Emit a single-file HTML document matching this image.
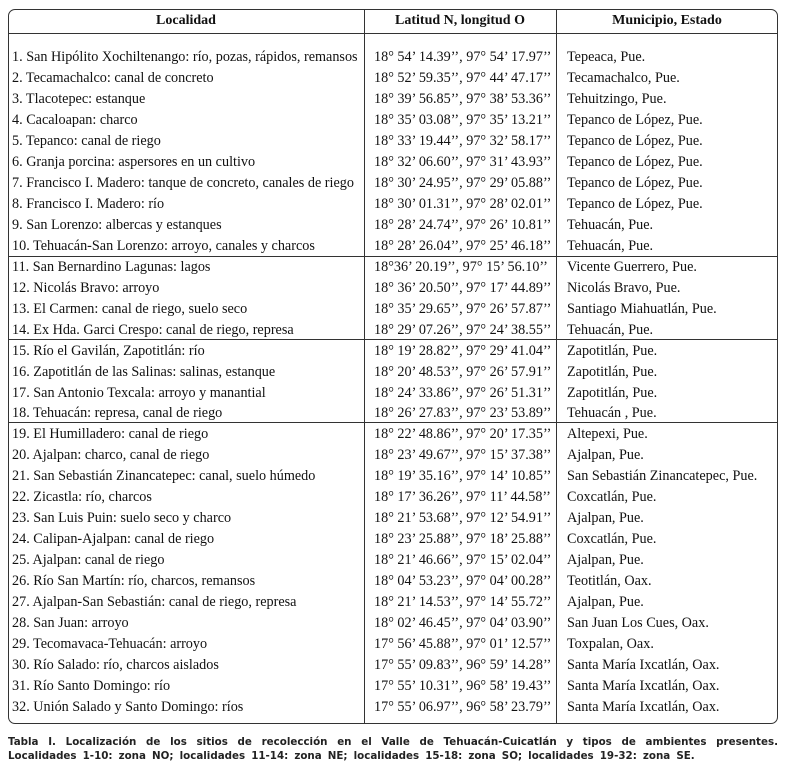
<!DOCTYPE html>
<html><head><meta charset="utf-8"><style>
body{margin:0;width:786px;height:768px;background:#fff;position:relative;font-family:"Liberation Serif",serif;color:#111;overflow:hidden}
.box{position:absolute;left:8px;top:9px;width:770px;height:715px;border:1.3px solid #333;border-radius:7px;box-sizing:border-box}
.v{position:absolute;width:1px;background:#333;top:9px;height:715px}
.h{position:absolute;height:1px;background:#333;left:8px;width:770px}
.hd{position:absolute;top:11px;font-weight:bold;font-size:14px;text-align:center;line-height:20px}
.rows{position:absolute;top:47px;left:0;width:786px}
.r{height:20.97px;line-height:20.97px;font-size:14.2px;position:relative;white-space:nowrap}
.r span{position:absolute}
.a{left:12px}.b{left:374px}.c{left:567px}
.cap{position:absolute;left:8px;width:770px;font-family:"DejaVu Sans","Liberation Sans",sans-serif;font-weight:bold;font-size:10.3px;line-height:14.5px;color:#222;white-space:nowrap}
.j{text-align:justify;text-align-last:justify;white-space:normal}
</style></head><body>
<div class="box"></div>
<div class="v" style="left:364px"></div>
<div class="v" style="left:556px"></div>
<div class="h" style="top:33px"></div>
<div class="h" style="top:256px"></div>
<div class="h" style="top:339px"></div>
<div class="h" style="top:422px"></div>
<div class="hd" style="left:8px;width:356px">Localidad</div>
<div class="hd" style="left:364px;width:192px">Latitud N, longitud O</div>
<div class="hd" style="left:556px;width:222px">Municipio, Estado</div>
<div class="rows">
<div class="r"><span class="a">1. San Hipólito Xochiltenango: río, pozas, rápidos, remansos</span><span class="b">18° 54’ 14.39’’, 97° 54’ 17.97’’</span><span class="c">Tepeaca, Pue.</span></div>
<div class="r"><span class="a">2. Tecamachalco: canal de concreto</span><span class="b">18° 52’ 59.35’’, 97° 44’ 47.17’’</span><span class="c">Tecamachalco, Pue.</span></div>
<div class="r"><span class="a">3. Tlacotepec: estanque</span><span class="b">18° 39’ 56.85’’, 97° 38’ 53.36’’</span><span class="c">Tehuitzingo, Pue.</span></div>
<div class="r"><span class="a">4. Cacaloapan: charco</span><span class="b">18° 35’ 03.08’’, 97° 35’ 13.21’’</span><span class="c">Tepanco de López, Pue.</span></div>
<div class="r"><span class="a">5. Tepanco: canal de riego</span><span class="b">18° 33’ 19.44’’, 97° 32’ 58.17’’</span><span class="c">Tepanco de López, Pue.</span></div>
<div class="r"><span class="a">6. Granja porcina: aspersores en un cultivo</span><span class="b">18° 32’ 06.60’’, 97° 31’ 43.93’’</span><span class="c">Tepanco de López, Pue.</span></div>
<div class="r"><span class="a">7. Francisco I. Madero: tanque de concreto, canales de riego</span><span class="b">18° 30’ 24.95’’, 97° 29’ 05.88’’</span><span class="c">Tepanco de López, Pue.</span></div>
<div class="r"><span class="a">8. Francisco I. Madero: río</span><span class="b">18° 30’ 01.31’’, 97° 28’ 02.01’’</span><span class="c">Tepanco de López, Pue.</span></div>
<div class="r"><span class="a">9. San Lorenzo: albercas y estanques</span><span class="b">18° 28’ 24.74’’, 97° 26’ 10.81’’</span><span class="c">Tehuacán, Pue.</span></div>
<div class="r"><span class="a">10. Tehuacán-San Lorenzo: arroyo, canales y charcos</span><span class="b">18° 28’ 26.04’’, 97° 25’ 46.18’’</span><span class="c">Tehuacán, Pue.</span></div>
<div class="r"><span class="a">11. San Bernardino Lagunas: lagos</span><span class="b">18°36’ 20.19’’, 97° 15’ 56.10’’</span><span class="c">Vicente Guerrero, Pue.</span></div>
<div class="r"><span class="a">12. Nicolás Bravo: arroyo</span><span class="b">18° 36’ 20.50’’, 97° 17’ 44.89’’</span><span class="c">Nicolás Bravo, Pue.</span></div>
<div class="r"><span class="a">13. El Carmen: canal de riego, suelo seco</span><span class="b">18° 35’ 29.65’’, 97° 26’ 57.87’’</span><span class="c">Santiago Miahuatlán, Pue.</span></div>
<div class="r"><span class="a">14. Ex Hda. Garci Crespo: canal de riego, represa</span><span class="b">18° 29’ 07.26’’, 97° 24’ 38.55’’</span><span class="c">Tehuacán, Pue.</span></div>
<div class="r"><span class="a">15. Río el Gavilán, Zapotitlán: río</span><span class="b">18° 19’ 28.82’’, 97° 29’ 41.04’’</span><span class="c">Zapotitlán, Pue.</span></div>
<div class="r"><span class="a">16. Zapotitlán de las Salinas: salinas, estanque</span><span class="b">18° 20’ 48.53’’, 97° 26’ 57.91’’</span><span class="c">Zapotitlán, Pue.</span></div>
<div class="r"><span class="a">17. San Antonio Texcala: arroyo y manantial</span><span class="b">18° 24’ 33.86’’, 97° 26’ 51.31’’</span><span class="c">Zapotitlán, Pue.</span></div>
<div class="r"><span class="a">18. Tehuacán: represa, canal de riego</span><span class="b">18° 26’ 27.83’’, 97° 23’ 53.89’’</span><span class="c">Tehuacán , Pue.</span></div>
<div class="r"><span class="a">19. El Humilladero: canal de riego</span><span class="b">18° 22’ 48.86’’, 97° 20’ 17.35’’</span><span class="c">Altepexi, Pue.</span></div>
<div class="r"><span class="a">20. Ajalpan: charco, canal de riego</span><span class="b">18° 23’ 49.67’’, 97° 15’ 37.38’’</span><span class="c">Ajalpan, Pue.</span></div>
<div class="r"><span class="a">21. San Sebastián Zinancatepec: canal, suelo húmedo</span><span class="b">18° 19’ 35.16’’, 97° 14’ 10.85’’</span><span class="c">San Sebastián Zinancatepec, Pue.</span></div>
<div class="r"><span class="a">22. Zicastla: río, charcos</span><span class="b">18° 17’ 36.26’’, 97° 11’ 44.58’’</span><span class="c">Coxcatlán, Pue.</span></div>
<div class="r"><span class="a">23. San Luis Puin: suelo seco y charco</span><span class="b">18° 21’ 53.68’’, 97° 12’ 54.91’’</span><span class="c">Ajalpan, Pue.</span></div>
<div class="r"><span class="a">24. Calipan-Ajalpan: canal de riego</span><span class="b">18° 23’ 25.88’’, 97° 18’ 25.88’’</span><span class="c">Coxcatlán, Pue.</span></div>
<div class="r"><span class="a">25. Ajalpan: canal de riego</span><span class="b">18° 21’ 46.66’’, 97° 15’ 02.04’’</span><span class="c">Ajalpan, Pue.</span></div>
<div class="r"><span class="a">26. Río San Martín: río, charcos, remansos</span><span class="b">18° 04’ 53.23’’, 97° 04’ 00.28’’</span><span class="c">Teotitlán, Oax.</span></div>
<div class="r"><span class="a">27. Ajalpan-San Sebastián: canal de riego, represa</span><span class="b">18° 21’ 14.53’’, 97° 14’ 55.72’’</span><span class="c">Ajalpan, Pue.</span></div>
<div class="r"><span class="a">28. San Juan: arroyo</span><span class="b">18° 02’ 46.45’’, 97° 04’ 03.90’’</span><span class="c">San Juan Los Cues, Oax.</span></div>
<div class="r"><span class="a">29. Tecomavaca-Tehuacán: arroyo</span><span class="b">17° 56’ 45.88’’, 97° 01’ 12.57’’</span><span class="c">Toxpalan, Oax.</span></div>
<div class="r"><span class="a">30. Río Salado: río, charcos aislados</span><span class="b">17° 55’ 09.83’’, 96° 59’ 14.28’’</span><span class="c">Santa María Ixcatlán, Oax.</span></div>
<div class="r"><span class="a">31. Río Santo Domingo: río</span><span class="b">17° 55’ 10.31’’, 96° 58’ 19.43’’</span><span class="c">Santa María Ixcatlán, Oax.</span></div>
<div class="r"><span class="a">32. Unión Salado y Santo Domingo: ríos</span><span class="b">17° 55’ 06.97’’, 96° 58’ 23.79’’</span><span class="c">Santa María Ixcatlán, Oax.</span></div>
</div>
<div class="cap j" style="top:735px">Tabla I. Localización de los sitios de recolección en el Valle de Tehuacán-Cuicatlán y tipos de ambientes presentes.</div>
<div class="cap" style="top:749px;word-spacing:2.5px">Localidades 1-10: zona NO; localidades 11-14: zona NE; localidades 15-18: zona SO; localidades 19-32: zona SE.</div>
</body></html>
